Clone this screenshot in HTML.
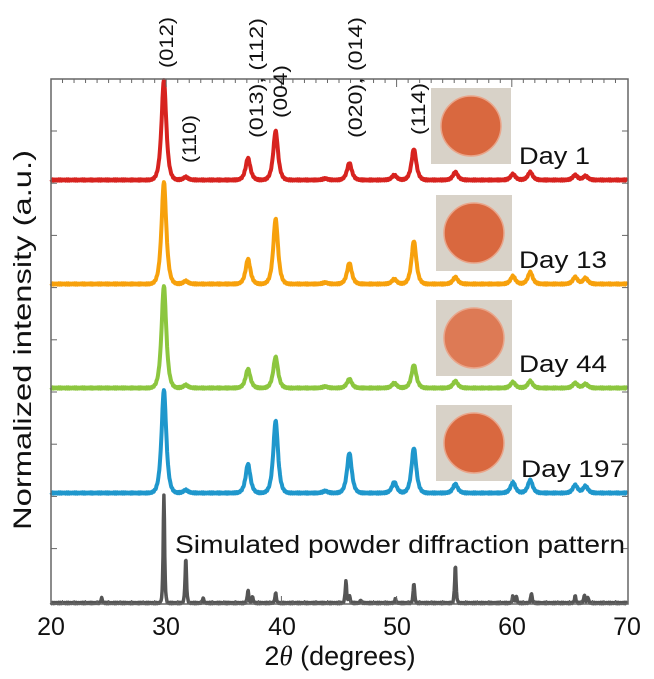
<!DOCTYPE html>
<html><head><meta charset="utf-8"><style>
body{margin:0;background:#fff;width:654px;height:674px;overflow:hidden}
svg text{font-family:"Liberation Sans",sans-serif;fill:#111}
</style></head><body>
<svg id="s" width="654" height="674" viewBox="0 0 654 674" xmlns="http://www.w3.org/2000/svg">
<g id="plot"></g>
<rect x="51" y="79" width="577" height="525" fill="none" stroke="#666" stroke-width="1.5"/>
<g id="ticks" stroke="#666" stroke-width="1"></g>
<g font-size="25" text-anchor="middle">
<text x="51" y="635">20</text><text x="166" y="635">30</text><text x="282" y="635">40</text>
<text x="397" y="635">50</text><text x="512" y="635">60</text><text x="627" y="635">70</text>
<text x="340" y="665" font-size="27">2<tspan font-style="italic" font-family="Liberation Serif">θ</tspan> (degrees)</text>
<text transform="translate(31,340) rotate(-90)" font-size="25" textLength="380" lengthAdjust="spacingAndGlyphs">Normalized intensity (a.u.)</text>
</g>
<g font-size="19">
<text transform="translate(173,68) rotate(-90)" textLength="51" lengthAdjust="spacingAndGlyphs">(012)</text>
<text transform="translate(196,163) rotate(-90)" textLength="48" lengthAdjust="spacingAndGlyphs">(110)</text>
<text transform="translate(263,138) rotate(-90)" textLength="120" lengthAdjust="spacingAndGlyphs">(013), (112)</text>
<text transform="translate(287,118) rotate(-90)" textLength="53" lengthAdjust="spacingAndGlyphs">(004)</text>
<text transform="translate(362,138) rotate(-90)" textLength="121" lengthAdjust="spacingAndGlyphs">(020), (014)</text>
<text transform="translate(425,135) rotate(-90)" textLength="52" lengthAdjust="spacingAndGlyphs">(114)</text>
</g>
<g id="photos"></g>
<g font-size="24">
<text x="519" y="164" textLength="71" lengthAdjust="spacingAndGlyphs">Day 1</text>
<text x="519" y="268" textLength="88" lengthAdjust="spacingAndGlyphs">Day 13</text>
<text x="519" y="372" textLength="88" lengthAdjust="spacingAndGlyphs">Day 44</text>
<text x="521" y="477" textLength="104" lengthAdjust="spacingAndGlyphs">Day 197</text>
<text x="175" y="553" font-size="25" textLength="450" lengthAdjust="spacingAndGlyphs">Simulated powder diffraction pattern</text>
</g>
</svg>
<script>
const X=d=>51+(d-20)*11.52;
const P=document.getElementById('plot');
function series(base,peaks,color,w,width){
 let d='';
 for(let t=20;t<=70.001;t+=0.04){
  let y=base;
  for(const [c,h] of peaks){const u=(t-c)/w;y-=h/(1+u*u*1.0)*Math.exp(-u*u*0.15);}
  y+=Math.sin(t*37)*0.6;
  d+=(d?'L':'M')+X(t).toFixed(1)+','+y.toFixed(1);
 }
 const p=document.createElementNS('http://www.w3.org/2000/svg','path');
 p.setAttribute('d',d);p.setAttribute('fill','none');p.setAttribute('stroke',color);
 p.setAttribute('stroke-width',width);p.setAttribute('stroke-linejoin','round');P.appendChild(p);
}
series(180,[[29.8,100],[31.7,3],[37.1,22],[39.5,49],[43.8,1.5],[45.9,17],[49.8,5],[51.5,31],[55.1,8],[60.1,6],[61.6,8],[65.5,5],[66.4,4]],'#d7231f',0.27,4);
series(284,[[29.8,102],[31.7,3],[37.1,25],[39.5,65],[43.8,1.5],[45.9,21],[49.8,5],[51.5,43],[55.1,7],[60.1,8],[61.6,12],[65.5,7],[66.4,6]],'#f7a10c',0.27,4);
series(388,[[29.8,102],[31.7,3],[37.1,19],[39.5,31],[43.8,1.5],[45.9,9],[49.8,5],[51.5,23],[55.1,7],[60.1,6],[61.6,7],[65.5,5],[66.4,4]],'#8cc63f',0.27,4);
series(493,[[29.8,103],[31.7,3],[37.1,29],[39.5,72],[43.8,2],[45.9,40],[49.8,11],[51.5,45],[55.1,9],[60.1,11],[61.6,13],[65.5,8],[66.4,7]],'#1f97cc',0.27,4);
series(603,[[24.4,5],[29.8,108],[31.7,45],[33.2,5],[37.1,13],[37.5,6],[39.5,10],[45.6,22],[45.9,8],[46.9,3],[49.9,4],[51.5,20],[55.1,38],[60.1,7],[60.4,6],[61.7,10],[65.5,7],[66.3,8],[66.6,6]],'#555',0.08,3.5);
const T=document.getElementById('ticks');let s='';
for(let d=21;d<70;d++){const x=X(d),L=d%10==0?8:4;s+=`<line x1="${x}" y1="79" x2="${x}" y2="${79+L}"/><line x1="${x}" y1="604" x2="${x}" y2="${604-L}"/>`;}
for(let y=131;y<600;y+=52.2){s+=`<line x1="51" y1="${y}" x2="57" y2="${y}"/><line x1="628" y1="${y}" x2="622" y2="${y}"/>`;}
T.innerHTML=s;
const ph=document.getElementById('photos');let h='';
[[431,88],[436,195],[436,300],[436,405]].forEach(([x,y],i)=>{
 h+=`<rect x="${x}" y="${y}" width="${i?76:80}" height="76" fill="#d8d2c8"/><circle cx="${x+(i?38:40)}" cy="${y+38}" r="30" fill="${i==2?'#dd7a55':'#d9683f'}" stroke="#e9a58a" stroke-width="1.5"/>`;
});
ph.innerHTML=h;
</script>
</body></html>
